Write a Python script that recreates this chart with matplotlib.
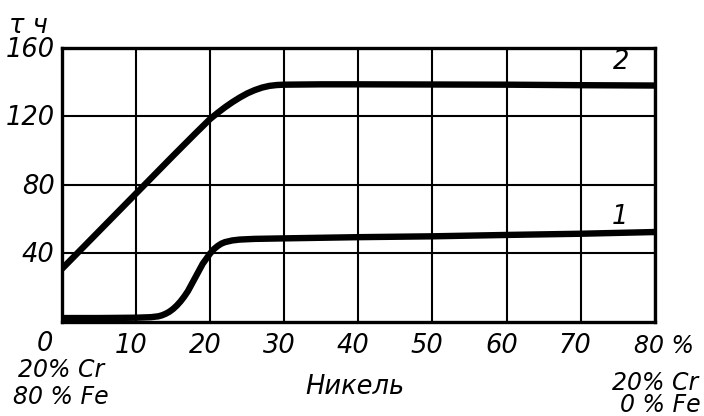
import matplotlib
matplotlib.use("Agg")
import matplotlib.pyplot as plt

# Data
nickel_2 = [0, 5, 10, 15, 18, 20, 21, 22, 23, 24, 25, 26, 27, 28, 29, 30, 35, 40, 50, 60, 70, 80]
tau_2 = [31, 53, 75, 97, 110, 118.5, 122, 125.3, 128.3, 131, 133.4, 135.3, 136.8, 137.8, 138.3, 138.5,
         138.7, 138.7, 138.6, 138.5, 138.2, 138]

nickel_1 = [0, 5, 10, 12, 13, 13.5, 14, 14.5, 15, 15.5, 16, 16.5, 17, 18, 19, 20, 20.5, 21, 21.5,
            22, 23, 24, 26, 30, 40, 50, 60, 70, 80]
tau_1 = [2.3, 2.3, 2.5, 2.8, 3.3, 3.9, 4.8, 6, 7.6, 9.6, 12, 14.8, 18, 26, 34, 40, 42.5, 44.3, 45.7,
         46.6, 47.6, 48.1, 48.5, 48.8, 49.5, 50, 50.8, 51.5, 52.5]

x_ticks = [0, 10, 20, 30, 40, 50, 60, 70, 80]
x_labels = ["0", "10", "20", "30", "40", "50", "60", "70", "80 %"]
y_ticks = [40, 80, 120, 160]
y_labels = ["40", "80", "120", "160"]

fig = plt.figure(figsize=(7.04, 4.16), dpi=100)
ax = fig.add_axes([0.088, 0.226, 0.842, 0.659])
ax.set_xlim(0, 80)
ax.set_ylim(0, 160)

font = dict(family="DejaVu Sans", style="italic", fontsize=18.5)
font_s = dict(family="DejaVu Sans", style="italic", fontsize=17)

ax.set_xticks(x_ticks)
ax.set_yticks(y_ticks)
ax.set_xticklabels([])
ax.set_yticklabels([])
ax.tick_params(length=0)
ax.grid(True, color="black", linewidth=1.5)
for s in ax.spines.values():
    s.set_linewidth(2.4)

ax.plot(nickel_2, tau_2, color="black", linewidth=4.6, solid_capstyle="butt",
        solid_joinstyle="round", zorder=3)
ax.plot(nickel_1, tau_1, color="black", linewidth=4.6, solid_capstyle="butt",
        solid_joinstyle="round", zorder=3)

# tick labels as text
for xv, lab in zip(x_ticks, x_labels):
    if xv == 0:
        ax.text(-2.3, -13, lab, ha="center", va="center", **font)
    elif xv == 80:
        ax.text(81.2, -14, lab, ha="center", va="center", **font_s)
    else:
        ax.text(xv - 0.7, -14, lab, ha="center", va="center", **font)
for yv, lab in zip(y_ticks, y_labels):
    ax.text(-1.0, yv - 1, lab, ha="right", va="center", **font)

ax.text(-0.1, -28, "20% Cr", ha="center", va="center", **font_s)
ax.text(-0.1, -43.5, "80 % Fe", ha="center", va="center", **font_s)
ax.text(80.0, -35.5, "20% Cr", ha="center", va="center", **font_s)
ax.text(80.7, -48.3, "0 % Fe", ha="center", va="center", **font_s)
ax.text(39.5, -38, "Никель", ha="center", va="center", **font)
ax.text(-4.5, 173, "τ ч", ha="center", va="center", **font)

ax.text(75.5, 152, "2", ha="center", va="center", **font)
ax.text(75.3, 61, "1", ha="center", va="center", **font)

for t in ax.texts:
    t.set_clip_on(False)

fig.savefig("out.png", dpi=100)
